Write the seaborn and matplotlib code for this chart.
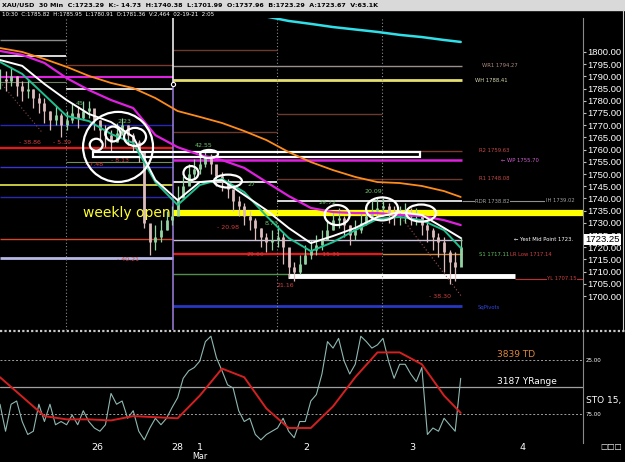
import numpy as np
import matplotlib
matplotlib.use("Agg")
import matplotlib.pyplot as plt
import matplotlib.transforms as mtransforms
from matplotlib.patches import Ellipse, Rectangle
from matplotlib.lines import Line2D
import seaborn as sns

# ---------------- data ----------------
# x axis = number of 30 min bars since the left edge; candles sampled every 3rd bar
candle_bars = np.arange(0, 250, 3)
mids = [1789, 1788, 1790, 1786, 1784, 1785, 1781, 1779, 1776, 1772,
        1774, 1770, 1772, 1775, 1773, 1776, 1777, 1772, 1768, 1766,
        1763, 1767, 1770, 1766, 1763, 1759, 1730, 1722, 1724, 1727,
        1731, 1733, 1740, 1745, 1750, 1752, 1754, 1757, 1754, 1749,
        1747, 1744, 1739, 1737, 1733, 1731, 1728, 1724, 1722, 1723,
        1724, 1720, 1712, 1710, 1713, 1717, 1719, 1721, 1723, 1727,
        1731, 1732, 1729, 1725, 1727, 1730, 1733, 1735, 1736, 1737,
        1734, 1733, 1733, 1734, 1733, 1733, 1729, 1727, 1724, 1722,
        1718, 1714, 1712, 1720]
highs = [1793, 1792, 1794, 1790, 1788, 1789, 1785, 1783, 1781, 1776,
         1778, 1775, 1776, 1779, 1778, 1780, 1780, 1776, 1772, 1770,
         1768, 1771, 1773, 1770, 1767, 1764, 1758, 1728, 1729, 1731,
         1735, 1737, 1745, 1749, 1754, 1756, 1759, 1760, 1758, 1753,
         1751, 1748, 1743, 1741, 1738, 1735, 1732, 1728, 1726, 1727,
         1729, 1726, 1718, 1714, 1717, 1721, 1723, 1725, 1727, 1731,
         1735, 1736, 1733, 1729, 1731, 1734, 1737, 1739, 1740, 1740,
         1738, 1737, 1737, 1738, 1736, 1736, 1733, 1731, 1728, 1726,
         1724, 1719, 1718, 1724]
lows = [1785, 1784, 1786, 1782, 1780, 1781, 1777, 1775, 1771, 1768,
        1770, 1765, 1768, 1771, 1769, 1772, 1773, 1768, 1763, 1761,
        1759, 1763, 1766, 1762, 1759, 1755, 1728, 1717, 1719, 1722,
        1727, 1729, 1735, 1741, 1746, 1748, 1750, 1753, 1750, 1745,
        1743, 1740, 1735, 1733, 1729, 1727, 1723, 1720, 1718, 1719,
        1720, 1713, 1708, 1706, 1709, 1713, 1715, 1717, 1719, 1723,
        1727, 1728, 1724, 1721, 1723, 1726, 1729, 1731, 1732, 1733,
        1730, 1729, 1729, 1730, 1729, 1729, 1725, 1722, 1719, 1716,
        1710, 1705, 1706, 1714]

ma_bars = np.r_[np.arange(0, 241, 12), 249]
ema_fast = [1796.7, 1794.3, 1786.9, 1780.3, 1774.6, 1771.3, 1765.2, 1747.5, 1739.3, 1746.7, 1747.5,
            1741.4, 1735.2, 1727.9, 1721.7, 1724.6, 1727.9, 1732.4, 1734.4, 1733.2, 1727.9, 1723.8]
ema_slow = [1795.9, 1791.0, 1782.4, 1773.8, 1771.7, 1766.4, 1762.7, 1746.7, 1737.3, 1745.5, 1748.0,
            1742.6, 1732.8, 1723.8, 1718.4, 1722.1, 1727.0, 1731.6, 1732.4, 1731.1, 1727.0, 1719.7]
ma_magenta = [1800.4, 1798.8, 1795.5, 1789.3, 1784.4, 1780.3, 1777.0, 1765.9, 1761.0, 1757.8, 1755.7,
              1752.5, 1746.7, 1741.0, 1736.1, 1734.4, 1734.0, 1734.0, 1733.2, 1732.8, 1731.1, 1729.1]
ma_orange = [1801.6, 1800.0, 1797.1, 1793.9, 1790.2, 1787.3, 1785.2, 1781.1, 1775.8, 1773.4, 1770.9,
             1767.6, 1763.9, 1759.0, 1754.9, 1751.6, 1748.8, 1746.7, 1746.3, 1745.1, 1743.0, 1740.6]
cyan_bars = [144, 156, 168, 180, 192, 204, 216, 228, 240, 249]
ma_cyan = [1814.5, 1812.7, 1811.5, 1810.2, 1809.2, 1808.2, 1807.0, 1806.1, 1804.9, 1804.1]

sto_fast = [66, 91, 66, 63, 82, 94, 91, 66, 82, 66,
            85, 82, 85, 76, 85, 72, 82, 88, 91, 85,
            56, 66, 63, 79, 72, 91, 99, 88, 79, 85,
            79, 69, 60, 42, 35, 32, 26, 8, 3, 23,
            35, 48, 51, 72, 82, 79, 94, 99, 94, 91,
            88, 79, 91, 97, 82, 82, 63, 57, 38, 8,
            14, 5, 26, 38, 29, 3, 8, 14, 11, 5,
            26, 42, 29, 29, 38, 45, 32, 94, 88, 91,
            79, 85, 91, 42]
sto_slow = [41, 59, 77, 80, 80, 81, 77, 78, 79, 58, 33,
            41, 70, 88, 88, 68, 41, 18, 18, 29, 58, 74]

# horizontal levels: price, from bar, to bar
level_prices = [1804.9, 1798.4, 1787.7, 1794.7, 1784.8, 1754.9, 1789.8, 1770.1, 1760.7, 1752.9, 1745.5,
                1740.6, 1723.4, 1715.6, 1800.8, 1767.2, 1746.7, 1717.2, 1717.2, 1709.0, 1695.9, 1774.6,
                1748.08, 1738.9, 1738.9, 1794.27, 1788.41, 1759.63, 1755.70, 1723.0, 1708.2, 1707.15, 1734.0]
level_from = [0, 0, 0, 35.7, 35.7, 35.7, 0, 0, 0, 0, 0,
              0, 0, 0, 93.5, 93.5, 93.5, 93.5, 206.5, 93.5, 93.5, 149.7,
              149.7, 149.7, 249.7, 93.5, 93.5, 206.5, 93.5, 93.5, 155.7, 278.4, 93.5]
level_to = [35.7, 35.7, 35.7, 93.5, 93.5, 93.5, 93.5, 93.5, 93.5, 93.5, 93.5,
            93.5, 93.5, 93.5, 149.7, 149.7, 149.7, 206.5, 249.7, 206.5, 249.7, 206.5,
            249.7, 249.7, 295, 249.7, 249.7, 249.7, 249.7, 249.7, 278.4, 316, 316]

label_text = ["WR1 1794.27", "WH 1788.41", "R2 1759.63", "\u2190 WP 1755.70", "R1 1748.08",
              "RDR 1738.82", "IH 1739.02", "\u2190 Yest Mid Point 1723.", "S1 1717.11",
              "LR Low 1717.14", "YL 1707.15", "SqPivots"]
label_bars = [260.5, 256.8, 259, 271, 259, 256.8, 295, 278, 259, 275.7, 295.7, 258.4]
label_prices = [1794.27, 1788.41, 1759.63, 1755.70, 1748.08, 1738.82, 1739.02, 1723.0,
                1717.11, 1717.14, 1707.15, 1695.2]

swing_text = ["- 38.86", "- 5.39", "- 7.48", "- 8.13", "45", "2.23", "- 40.21", "42.55", "- 20.98",
              "27", "8.73", "29.66", "21.16", "29.72", "- 15.31", "20.09", "- 38.30"]
swing_bars = [16, 33.5, 51, 65, 43, 67.5, 69, 110, 123, 136, 147, 138, 154, 177, 178, 202, 238]
swing_prices = [1763.1, 1763.1, 1753.7, 1755.7, 1778.7, 1771.7, 1714.8, 1761.6, 1727.9, 1745.5,
                1729.9, 1717.2, 1704.5, 1738.5, 1717.2, 1743.0, 1700.0]
swing_up = [0, 0, 0, 0, 1, 1, 0, 1, 0, 1, 1, 0, 0, 1, 0, 1, 0]

# hand drawn circles: centre bar, centre price, width (bars), height (price)
circ_bars = [63.8, 52, 61.1, 73, 103.2, 113, 123.2, 182.2, 206.5, 227.6]
circ_prices = [1761.1, 1762.0, 1766.4, 1765.2, 1750.4, 1758.2, 1747.1, 1733.2, 1735.7, 1734.0]
circ_w = [37.8, 7, 8.1, 11.9, 8.1, 9.7, 15.1, 13.5, 17.3, 16.2]
circ_h = [28.7, 4.9, 6.1, 7.4, 5.7, 3.3, 5.3, 8.2, 9.4, 7.0]

day_bars = [52.4, 95.7, 108.1, 165.4, 222.7, 282.2]
day_labels = ["26", "28", "1", "2", "3", "4"]

# ---------------- style ----------------
sns.set_theme(style="dark", rc={"axes.facecolor": "black", "figure.facecolor": "black",
                                "axes.edgecolor": "#8a8a8a", "text.color": "white",
                                "xtick.color": "white", "ytick.color": "white",
                                "axes.grid": False})
plt.rcParams['font.family'] = ['DejaVu Sans']

fig = plt.figure(figsize=(6.25, 4.62), dpi=100)
ax = fig.add_axes([0, 0.2857, 0.9328, 0.6753])
ax2 = fig.add_axes([0, 0.0411, 0.9328, 0.2403])

XMAX = 315.1
ax.set_xlim(0, XMAX)
ax.set_ylim(1686.1, 1813.9)
ax2.set_xlim(0, XMAX)
ax2.set_ylim(101.9, -0.9)

for a in (ax, ax2):
    for s in ("top", "left", "bottom"):
        a.spines[s].set_visible(False)
    a.spines["right"].set_color("#8a8a8a")
    a.spines["right"].set_linewidth(0.8)

# level lines
level_colors = ['#8c8c8c', 'white', '#6f7f5f', '#7a3b2e', 'white', '#6f8f5f', '#e020e0', '#2828b8',
                '#e81818', '#3838d0', '#e8e850', '#2a2ab0', '#d04a2a', '#b8b8e8', '#6a3a30', '#6a3a30',
                'white', '#e81818', '#d08a40', '#4f8f4f', '#2438c0', '#6a3a30', '#6a3a30', 'white',
                '#909090', '#9a8f8a', '#e6e070', '#7a3b2e', '#e020e0', '#c8c0d8', 'white', '#c03030',
                '#ffff00']
level_lw = [1, 1.2, 0.8, 1, 1.2, 0.8, 1.5, 1, 1.6, 1, 1.2, 1, 1, 2, 1, 1,
            1.2, 1.6, 1, 1, 2, 1, 1, 1.2, 0.8, 1, 2, 1, 1.8, 1, 3.5, 0.8, 4.5]
ax.hlines(level_prices, level_from, level_to, colors=level_colors, linewidths=level_lw, zorder=1)

# session separators
for b in (35.7, 149.7, 206.5):
    ax.axvline(b, color='#8a8a8a', lw=0.8, ls=(0, (1, 2)), zorder=1)
ax.vlines(93.5, 1786.9, 1813.9, color='white', lw=1.1, zorder=2)
ax.vlines(93.5, 1686.1, 1786.9, color='#a080e0', lw=1.1, zorder=2)
ax.plot([93.5], [1786.9], marker='o', ms=3, mfc='black', mec='white', mew=0.8, zorder=3)

# faint dotted trend lines
ax.plot([0, 23], [1787.7, 1766.8], color='#804848', lw=0.8, ls=(0, (1, 2)))
ax.plot([216, 249.7], [1733.2, 1699.6], color='#a05050', lw=0.8, ls=(0, (1, 2)))

# white box
ax.add_patch(Rectangle((50.3, 1756.8), 176.7, 2.2, fill=False, ec='white', lw=1.6, zorder=4))

# candles
closes = np.array(mids, dtype=float)
opens = np.r_[closes[0], closes[:-1]]
cols = np.where(closes >= opens, '#93d3a2', '#dcbcbc')
ax.vlines(candle_bars, lows, highs, colors=cols, lw=0.9, zorder=3)
ax.vlines(candle_bars, np.minimum(opens, closes), np.maximum(opens, closes), colors=cols, lw=2, zorder=3)

# moving averages
for y, c, lw in ((ma_orange, '#ff8c1a', 1.3), (ma_magenta, '#e020e0', 1.6),
                 (ema_slow, '#20c090', 1.4), (ema_fast, 'white', 1.4)):
    sns.lineplot(x=ma_bars, y=y, ax=ax, color=c, lw=lw, estimator=None, sort=False, legend=False, zorder=5)
sns.lineplot(x=cyan_bars, y=ma_cyan, ax=ax, color='#30e0e8', lw=1.8, estimator=None, sort=False,
             legend=False, zorder=5)

# circles
for cx, cy, w, h in zip(circ_bars, circ_prices, circ_w, circ_h):
    ax.add_patch(Ellipse((cx, cy), w, h, fill=False, ec='white', lw=1.6, zorder=6))

# swing labels
for t, b, p, u in zip(swing_text, swing_bars, swing_prices, swing_up):
    ax.text(b, p, t, color='#70c070' if u else '#d04040', fontsize=4.5, ha='center', va='center', zorder=6)

# right side level labels
label_colors = ['#b08a80', '#d8d8b0', '#c84848', '#d060d0', '#c84848', '#a0a0a0', '#a0a0a0', 'white',
                '#60c060', '#d04040', '#d04040', '#3048e0']
for t, b, p, c in zip(label_text, label_bars, label_prices, label_colors):
    ax.text(b, p, t, color=c, fontsize=3.8, ha='left', va='center', zorder=6,
            bbox=dict(fc='black', ec='none', pad=0.3), clip_on=False)

ax.text(45, 1734.0, "weekly open", color='#ffff30', fontsize=10, ha='left', va='center', zorder=7)

# price axis
ax.set_xticks([])
yt = np.arange(1700, 1801, 5)
ax.yaxis.tick_right()
ax.set_yticks(yt)
ax.set_yticklabels([f"{v:.2f}" for v in yt], family=['Liberation Sans', 'DejaVu Sans'])
ax.tick_params(axis='y', length=2.5, width=0.8, color='#c0c0c0', pad=0.5, labelsize=6.8, labelcolor='white')
ax.set_ylabel("")
trans = mtransforms.blended_transform_factory(ax.transAxes, ax.transData)
ax.text(1.004, 1723.25, "1723.25", transform=trans, fontsize=6.8, color='black', ha='left', va='center',
        family=['Liberation Sans', 'DejaVu Sans'],
        bbox=dict(fc='white', ec='none', pad=0.6), clip_on=False, zorder=10)

# stochastic panel
ax2.axhline(25, color='#a0a0a0', lw=0.7, ls=(0, (2, 2)))
ax2.axhline(75, color='#a0a0a0', lw=0.7, ls=(0, (2, 2)))
ax2.axhline(50, color='#a0a0a0', lw=0.9)
sns.lineplot(x=candle_bars, y=sto_fast, ax=ax2, color='#8fb8b2', lw=0.8, estimator=None, sort=False, legend=False)
sns.lineplot(x=ma_bars, y=sto_slow, ax=ax2, color='#d42020', lw=1.4, estimator=None, sort=False, legend=False)
ax2.set_yticks([])
ax2.set_ylabel("")
ax2.set_xticks(day_bars)
ax2.set_xticklabels(day_labels)
ax2.tick_params(axis='x', length=0, pad=0.3, labelsize=6.8, labelcolor='white')
ax2.text(108.1, -0.125, "Mar", transform=mtransforms.blended_transform_factory(ax2.transData, ax2.transAxes),
         fontsize=5.8, color='white', ha='center', va='center', clip_on=False)
ax2.text(268.6, 20.4, "3839 TD", color='#e0873c', fontsize=6.5, ha='left', va='center')
ax2.text(268.6, 45.4, "3187 YRange", color='white', fontsize=6.5, ha='left', va='center')

# figure decorations
fig.add_artist(Rectangle((0, 1 - 10 / 462), 1, 10 / 462, transform=fig.transFigure, color='#d9d9d9'))
fig.text(0.003, 1 - 5 / 462,
         "XAU/USD  30 Min  C:1723.29  K:- 14.73  H:1740.38  L:1701.99  O:1737.96  B:1723.29  A:1723.67  V:63.1K",
         fontsize=4.6, color='black', va='center', ha='left', fontweight='bold')
fig.text(0.003, 1 - 14 / 462, "10:30  C:1785.82  H:1785.95  L:1780.91  O:1781.36  V:2,464  02-19-21  2:05",
         fontsize=4.0, color='white', va='center', ha='left')
fig.add_artist(Line2D([0, 1], [1 - 331 / 462] * 2, transform=fig.transFigure, color='#c8c8c8', lw=1.6,
                      ls=(0, (1, 1))))
fig.add_artist(Line2D([623 / 625] * 2, [1 - 10 / 462, 1 - 330 / 462], transform=fig.transFigure,
                      color='#d0d0d0', lw=0.8))
fig.text(586 / 625, 1 - 401 / 462, "STO 15,", fontsize=6.5, color='white', va='center', ha='left')
fig.text(586 / 625, 1 - 360 / 462, "25.00", fontsize=4, color='white', va='center', ha='left')
fig.text(586 / 625, 1 - 414 / 462, "75.00", fontsize=4, color='white', va='center', ha='left')
fig.text(600 / 625, 1 - 447 / 462, "\u25a1\u25a1\u25a1", fontsize=5.5, color='white', va='center', ha='left')

plt.savefig("out.png", dpi=100, facecolor='black')
